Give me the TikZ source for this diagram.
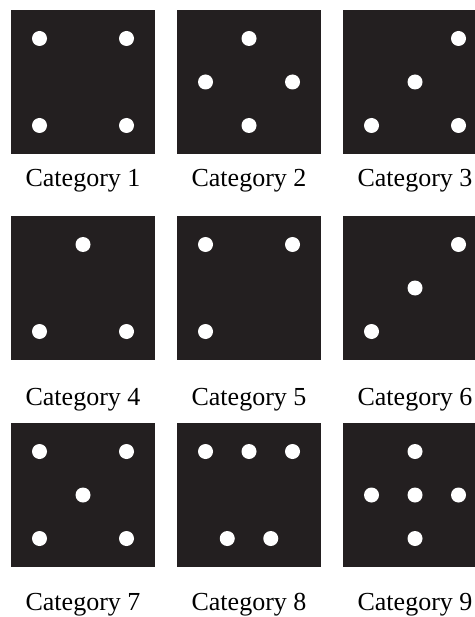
\documentclass[tikz,border=0pt]{standalone}
\usepackage{fontspec}
\setmainfont{Liberation Serif}
\usepackage{xcolor}
\usetikzlibrary{positioning}
\definecolor{panelgray}{HTML}{231F20}

\begin{document}
\begin{tikzpicture}[x=1pt,y=-1pt,
  panelbox/.style={fill=panelgray,minimum size=144pt,inner sep=0pt},
  dot/.style={circle,fill=white,minimum size=15pt,inner sep=0pt},
  catlabel/.style={font=\fontsize{26}{30}\selectfont,inner sep=0pt,anchor=base}]
\useasboundingbox (0,0) rectangle (474,617);
% panels and their captions (caption y = baseline)
\foreach \n/\x/\y/\ly in {1/83/82/187,2/249/82/187,3/415/82/187,
                          4/83/288/405,5/249/288/405,6/415/288/405,
                          7/83/495/610,8/249/495/610,9/415/495/610}{
  \node[panelbox] (c\n) at (\x,\y) {};
  \node[catlabel] (l\n) at (\x,\ly) {Category \n};
}
% dots, offsets in units of 43.5
\foreach \n/\i/\j [count=\c] in {1/-1/-1,1/1/-1,1/-1/1,1/1/1,
    2/0/-1,2/-1/0,2/1/0,2/0/1,
    3/1/-1,3/0/0,3/-1/1,3/1/1,
    4/0/-1,4/-1/1,4/1/1,
    5/-1/-1,5/1/-1,5/-1/1,
    6/1/-1,6/0/0,6/-1/1,
    7/-1/-1,7/1/-1,7/0/0,7/-1/1,7/1/1,
    8/-1/-1,8/0/-1,8/1/-1,8/-0.5/1,8/0.5/1,
    9/0/-1,9/-1/0,9/0/0,9/1/0,9/0/1}
  \node[dot] (dot\c) at ([shift={(\i*43.5,\j*43.5)}]c\n) {};
\end{tikzpicture}
\end{document}
